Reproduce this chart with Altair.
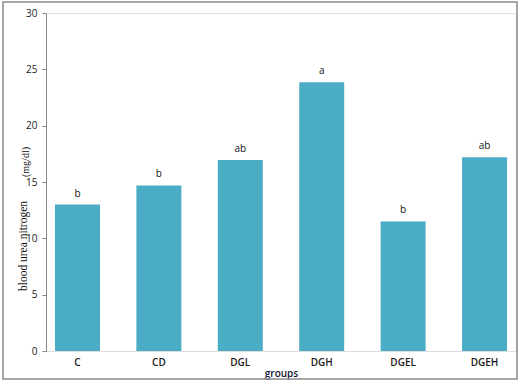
import altair as alt
import pandas as pd

groups = ["C", "CD", "DGL", "DGH", "DGEL", "DGEH"]
values = [13.0, 14.7, 16.95, 23.85, 11.5, 17.2]
letters = ["b", "b", "ab", "a", "b", "ab"]

df = pd.DataFrame({"group": groups, "value": values, "letter": letters})

W, H = 470, 338

x = alt.X("group:N", sort=groups,
          scale=alt.Scale(paddingInner=0.447, paddingOuter=0.11),
          axis=alt.Axis(title="groups", labelAngle=0, domain=False, ticks=False,
                        labelFont="Open Sans", labelFontSize=10, labelColor="#1a1a1a",
                        labelFontWeight=600, labelPadding=6,
                        titleFont="Open Sans", titleFontSize=10,
                        titleFontWeight=600, titleColor="#111133", titlePadding=1))
y = alt.Y("value:Q", scale=alt.Scale(domain=[0, 30]),
          axis=alt.Axis(title=None, values=[0, 5, 10, 15, 20, 25, 30], grid=False,
                        domainColor="#868686", tickColor="#868686", tickSize=4,
                        labelFont="Open Sans", labelFontSize=10, labelColor="#222",
                        labelPadding=5))

bars = alt.Chart(df).mark_bar(color="#4BACC6", size=45).encode(x=x, y=y)

labels = alt.Chart(df).mark_text(dy=-11, font="Open Sans", fontSize=10, color="#111").encode(
    x=alt.X("group:N", sort=groups), y="value:Q", text="letter:N")

frame_df = pd.DataFrame({"k": [0]})
frame = alt.Chart(frame_df).mark_rect(fill=None, stroke="#8a8a8a", strokeWidth=1.5).encode(
    x=alt.value(-43), x2=alt.value(W + 1), y=alt.value(-11), y2=alt.value(H + 28))

t1 = alt.Chart(frame_df).mark_text(angle=270, font="Liberation Serif", fontSize=11.5,
                                   color="#111").encode(
    x=alt.value(-22), y=alt.value(233), text=alt.value("blood urea nitrogen"))
t2 = alt.Chart(frame_df).mark_text(angle=270, font="Liberation Serif", fontSize=10,
                                   color="#111").encode(
    x=alt.value(-20), y=alt.value(149), text=alt.value("(mg/dl)"))

chart = alt.layer(bars, labels, t1, t2, frame).properties(
    width=W, height=H,
    autosize=alt.AutoSizeParams(type="none"),
    padding={"left": 46, "top": 13, "right": 4, "bottom": 31},
).configure_view(stroke=None).configure(background="white")

chart.save("out.html", embed_options={"renderer": "svg", "actions": False})
